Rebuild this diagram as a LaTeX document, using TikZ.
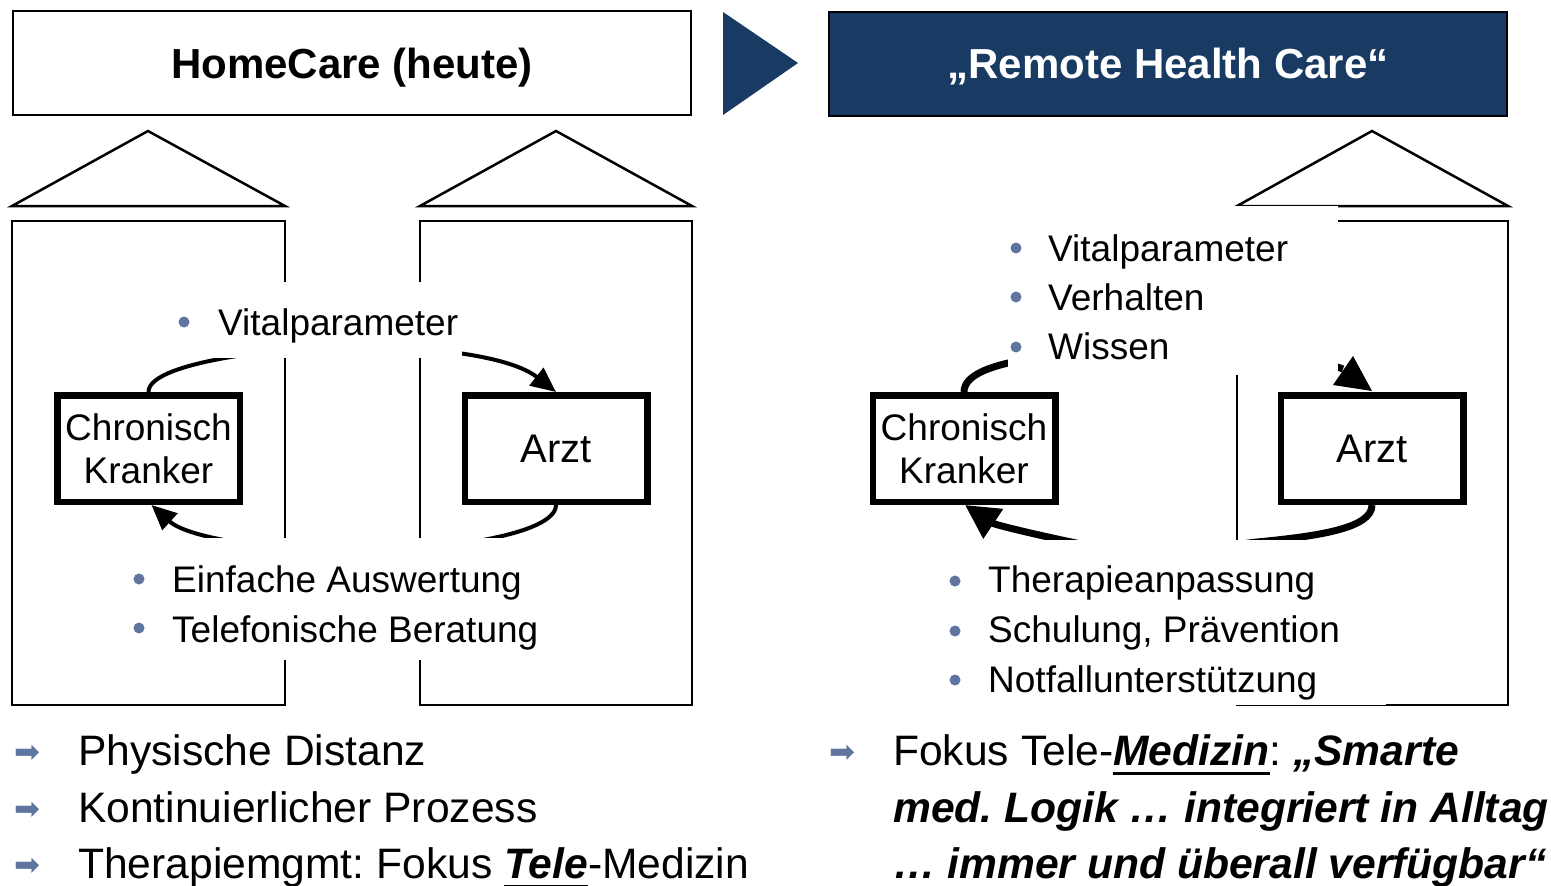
\documentclass[tikz,border=0pt]{standalone}
\usepackage{fontspec}
\setmainfont{Liberation Sans}
\newfontfamily\djv{DejaVu Sans}
\usetikzlibrary{arrows.meta}
\definecolor{navy}{RGB}{24,58,99}
\definecolor{bul}{RGB}{96,116,160}
\newcommand\ulx[1]{\setbox0\hbox{#1}\rlap{\rule[-10pt]{\wd0}{3pt}}\box0}
\frenchspacing
\begin{document}
\begin{tikzpicture}[x=1pt,y=-1pt,
  wall/.style={draw=black,line width=2pt},
  roof/.style={draw=black,line width=2.5pt,line join=miter},
  actor/.style={draw=black,line width=6.5pt,fill=white,minimum width=182.5pt,minimum height=106.5pt,inner sep=0pt,align=center,font=\fontsize{37}{43}\selectfont},
  cover/.style={fill=white,draw=none,inner sep=0pt},
  lst/.style={anchor=base west,inner sep=0pt,font=\fontsize{37}{44}\selectfont},
  arcL/.style={line width=4pt},
  arcR/.style={line width=7pt},
  tipL/.style={-{Triangle[length=25pt,width=22pt]}},
  tipR/.style={-{Triangle[length=34pt,width=34pt]}},
  dot/.style={fill=bul},
  big/.style={anchor=base west,inner sep=0pt,font=\fontsize{42.6}{57}\selectfont},
  arr/.style={inner sep=0pt,text=bul,font=\djv\fontsize{31}{31}\selectfont},
  title/.style={draw=black,line width=2pt,minimum width=678pt,minimum height=104pt,inner sep=0pt},
  ttxt/.style={anchor=base,inner sep=0pt,font=\bfseries\fontsize{42}{50}\selectfont}
]
\useasboundingbox (0,0) rectangle (1551,886);

% titles
\node[title] (t1) at (352,63) {};
\node[ttxt] (t1x) at (352,78) {HomeCare (heute)};
\node[title,fill=navy] (t2) at (1168,64) {};
\node[ttxt,text=white] (t2x) at (1168,78) {„Remote Health Care“};
\fill[navy] (723,12) -- (798,63) -- (723,115) -- cycle;

% houses
\draw[roof] (12,206) -- (148,131) -- (285,206) -- cycle;
\draw[wall] (12,221) rectangle (285,705);
\draw[roof] (420,206) -- (556,131) -- (692,206) -- cycle;
\draw[wall] (420,221) rectangle (692,705);
\draw[roof] (1237,206) -- (1372,131) -- (1508,206) -- cycle;
\draw[wall] (1237,221) rectangle (1508,705);

% actors
\node[actor] (ck1) at (148.5,448.5) {Chronisch\\Kranker};
\node[actor,font=\fontsize{40}{44}\selectfont] (ak1) at (556,448.5) {Arzt};
\node[actor] (ck2) at (964,448.5) {Chronisch\\Kranker};
\node[actor,font=\fontsize{40}{44}\selectfont] (ak2) at (1372,448.5) {Arzt};

% left arcs
\draw[arcL,tipL] (ck1.north) .. controls (148,360) and (300,346) .. (352,346)
   .. controls (404,346) and (505,352) .. (ak1.north);
\draw[arcL,tipL] (ak1.south) .. controls (556,535) and (440,551) .. (352,551)
   .. controls (284,551) and (190,540) .. ([xshift=3pt]ck1.south);

% right arcs
\coordinate (rend) at (1343,369);
\draw[arcR] (ck2.north) .. controls (964,360) and (1060,352) .. (1160,350)
   .. controls (1260,348) and (1320,360) .. (rend);
\coordinate (rtA) at (1353,356);
\coordinate (rtB) at (1333,385);
\coordinate (rtC) at (1372,391);
\fill (rtA) -- (rtB) -- (rtC) -- cycle;
\draw[arcR,tipR] (ak2.south) .. controls (1372,528) and (1320,536) .. (1257,542)
   .. controls (1210,547) and (1195,562) .. (1165,562)
   .. controls (1130,562) and (1105,549) .. (1076,543)
   .. controls (1042,536) and (995,525) .. ([xshift=1pt]ck2.south);

% covers
\node[cover,minimum width=292pt,minimum height=76pt] (cv1) at (316,320) {};
\node[cover,minimum width=435pt,minimum height=122pt] (cv2) at (342.5,599) {};
\node[cover,minimum width=330pt,minimum height=169pt] (cv3) at (1173,290.5) {};
\node[cover,minimum width=451pt,minimum height=165pt] (cv4) at (1160.5,622.5) {};

% lists
\fill[dot] (184,322) circle (5.5);
\node[lst] (l1) at (218,335) {Vitalparameter};
\fill[dot] (139,579) circle (5.5);
\node[lst] (l2) at (172,592) {Einfache Auswertung};
\fill[dot] (139,628) circle (5.5);
\node[lst] (l3) at (172,642) {Telefonische Beratung};

\fill[dot] (1016,248) circle (5.5);
\node[lst] (r1) at (1048,261) {Vitalparameter};
\fill[dot] (1016,297) circle (5.5);
\node[lst] (r2) at (1048,310) {Verhalten};
\fill[dot] (1016,347) circle (5.5);
\node[lst] (r3) at (1048,359) {Wissen};

\fill[dot] (955,581) circle (5.5);
\node[lst] (r4) at (988,592) {Therapieanpassung};
\fill[dot] (955,631) circle (5.5);
\node[lst] (r5) at (988,642) {Schulung, Prävention};
\fill[dot] (955,680) circle (5.5);
\node[lst] (r6) at (988,692) {Notfallunterstützung};

% bottom
\node[arr] (a1) at (27,754) {➡};
\node[arr] (a2) at (27,811) {➡};
\node[arr] (a3) at (27,867) {➡};
\node[big] (b1) at (78,765) {Physische Distanz};
\node[big] (b2) at (78,822) {Kontinuierlicher Prozess};
\node[big] (b3) at (78,878) {Therapiemgmt: Fokus \ulx{\textbf{\textit{Tele}}}-Medizin};

\node[arr] (a4) at (842,754) {➡};
\node[big] (c1) at (893,765) {Fokus Tele-\ulx{\textbf{\textit{Medizin}}}: \textbf{\textit{„Smarte}}};
\node[big] (c2) at (893,822) {\textbf{\textit{med. Logik … integriert in Alltag}}};
\node[big] (c3) at (893,878) {\textbf{\textit{… immer und überall verfügbar“}}};
\end{tikzpicture}
\end{document}
